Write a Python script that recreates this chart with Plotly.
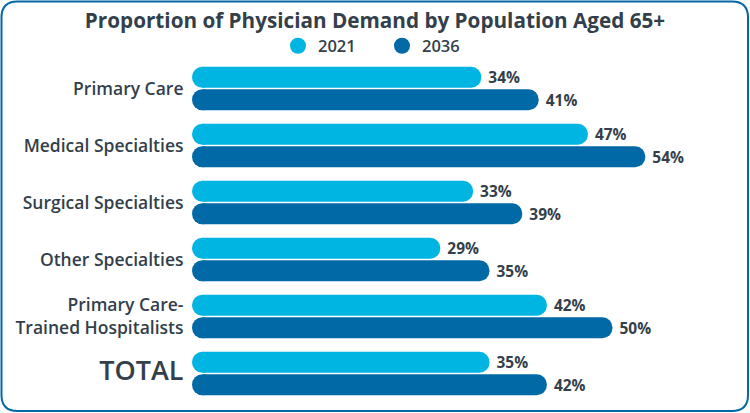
import plotly.graph_objects as go

categories = ["Primary Care", "Medical Specialties", "Surgical Specialties",
              "Other Specialties", "Primary Care-Trained Hospitalists", "TOTAL"]
tick_labels = ["Primary Care", "Medical Specialties", "Surgical Specialties",
               "Other Specialties", "Primary Care-<br>Trained Hospitalists",
               "<span style='font-size:27px'>TOTAL</span>"]
values_2021 = [34, 47, 33, 29, 42, 35]
values_2036 = [41, 54, 39, 35, 50, 42]
series_names = ["2021", "2036"]

C2021 = "#00b5e2"
C2036 = "#0069a6"
TXT = "#333f4a"
FONT = "Open Sans"

W, H = 750, 413
ML, MR, MT, MB = 192, 8, 60, 11
PW, PH = W - ML - MR, H - MT - MB
PX_PER_UNIT = 8.2
BARGAP, GROUPGAP = 0.21, 0.07
ROW_PX = PH / len(categories)
BAR_PX = ROW_PX * (1 - BARGAP) / 2 * (1 - GROUPGAP)   # bar thickness in px
RADIUS = BAR_PX / 2
CAP = RADIUS / PX_PER_UNIT
X_RANGE = [-CAP, PW / PX_PER_UNIT - CAP]

fig = go.Figure()

for name, vals, col in [(series_names[0], values_2021, C2021),
                        (series_names[1], values_2036, C2036)]:
    fig.add_trace(go.Bar(
        y=categories, x=vals, orientation="h", offsetgroup=name,
        marker=dict(color=col, cornerradius=RADIUS, line=dict(width=0)),
        text=[f" {v}%" for v in vals], textposition="outside", cliponaxis=False,
        textfont=dict(family=FONT, size=17, color=TXT, weight=700),
        showlegend=False, hoverinfo="skip"))
    # round cap at the bar's base (zero) so the left end is rounded too
    fig.add_trace(go.Scatter(
        y=categories, x=[0 for _ in vals], mode="markers", orientation="h",
        offsetgroup=name, cliponaxis=False,
        marker=dict(symbol="circle", size=BAR_PX, color=col, line=dict(width=0)),
        showlegend=False, hoverinfo="skip"))
    fig.add_trace(go.Scatter(
        x=[None], y=[None], mode="markers", name=name, offsetgroup=name,
        orientation="h",
        marker=dict(symbol="circle", size=20, color=col)))

def px2paper(px, py):
    return (px - ML) / PW, (H - MB - py) / PH

def rounded_rect(x0, y0, x1, y1, r):
    def P(x, y):
        a, b = px2paper(x, y)
        return f"{a:.5f},{b:.5f}"
    return (f"M{P(x0 + r, y0)} L{P(x1 - r, y0)} Q{P(x1, y0)} {P(x1, y0 + r)} "
            f"L{P(x1, y1 - r)} Q{P(x1, y1)} {P(x1 - r, y1)} "
            f"L{P(x0 + r, y1)} Q{P(x0, y1)} {P(x0, y1 - r)} "
            f"L{P(x0, y0 + r)} Q{P(x0, y0)} {P(x0 + r, y0)} Z")

fig.update_layout(
    width=W, height=H,
    margin=dict(l=ML, r=MR, t=MT, b=MB, pad=0),
    paper_bgcolor="white", plot_bgcolor="white",
    barmode="group", bargap=BARGAP, bargroupgap=GROUPGAP,
    scattermode="group", scattergap=BARGAP,
    title=dict(text="Proportion of Physician Demand by Population Aged 65+",
               x=0.5, xanchor="center", y=1 - 21 / H, yanchor="middle",
               font=dict(family=FONT, size=20.7, color=TXT, weight=700)),
    legend=dict(orientation="h", x=(278 - ML) / PW, xanchor="left",
                y=1 + 14 / PH, yanchor="middle",
                font=dict(family=FONT, size=16.5, color=TXT, weight=600),
                entrywidth=59, entrywidthmode="pixels", itemclick=False),
    xaxis=dict(range=X_RANGE, visible=False, fixedrange=True),
    yaxis=dict(type="category", categoryorder="array", categoryarray=categories,
               autorange="reversed", showgrid=False, zeroline=False, showline=False,
               fixedrange=True,
               tickmode="array", tickvals=categories, ticktext=tick_labels,
               ticks="outside", ticklen=4, tickcolor="rgba(0,0,0,0)",
               tickfont=dict(family=FONT, size=17.5, color=TXT, weight=600)),
    shapes=[dict(type="path", xref="paper", yref="paper",
                 path=rounded_rect(1.5, 1.5, 748, 411, 16),
                 line=dict(color=C2036, width=2), fillcolor="rgba(0,0,0,0)",
                 layer="above")],
)

fig.write_html("out.html", config={"displayModeBar": False},
               post_script="document.body.style.margin='0';document.body.style.overflow='hidden';")
